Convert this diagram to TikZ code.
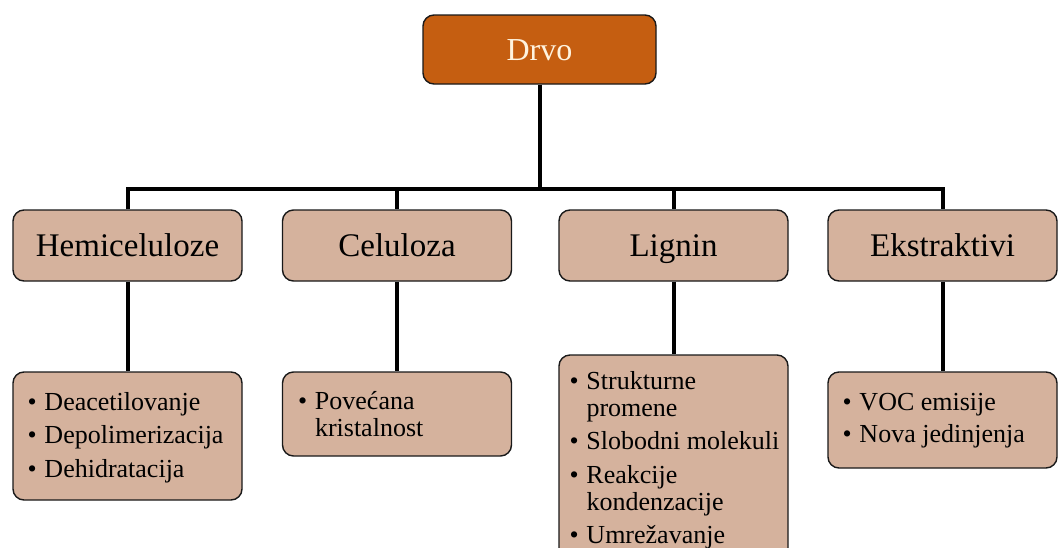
\documentclass[tikz,border=0pt]{standalone}
\usepackage{fontspec}
\setmainfont{Liberation Serif}
\usetikzlibrary{calc}
\definecolor{drvocol}{RGB}{197,94,17}
\definecolor{boxtan}{RGB}{213,178,157}
\definecolor{creamtxt}{RGB}{255,243,222}
\newcommand{\bl}{\makebox[17pt][l]{\textbullet}}
\begin{document}
\begin{tikzpicture}[x=1pt,y=-1pt,
  box/.style={draw=black!90, line width=1.4pt, rounded corners=11pt, fill=boxtan, inner sep=0pt},
  topbox/.style={box, fill=drvocol, minimum width=233pt, minimum height=69pt, font=\fontsize{32}{38}\selectfont, text=creamtxt, text height=21.9pt, text depth=0pt},
  catbox/.style={box, minimum width=229pt, minimum height=71pt, font=\fontsize{33}{40}\selectfont, text height=22.5pt, text depth=0pt},
  subbox/.style={box, minimum width=229pt},
  listtxt/.style={anchor=base west, inner sep=0pt, font=\fontsize{26}{27}\selectfont},
  link/.style={line width=4pt, black}
]
\useasboundingbox (0,0) rectangle (1061,547);
\clip (0,0) rectangle (1061,547);
\fill[white] (0,0) rectangle (1061,547);

\node[topbox] (drvo) at (539.5,49.5) {Drvo};
\node[catbox] (hemi) at (127.5,245.5) {Hemiceluloze};
\node[catbox] (celu) at (397,245.5) {Celuloza};
\node[catbox] (lign) at (673.5,245.5) {Lignin};
\node[catbox] (ekst) at (942.5,245.5) {Ekstraktivi};

\node[subbox, minimum height=128pt] (hemisub) at (127.5,436) {};
\node[subbox, minimum height=84pt] (celusub) at (397,414) {};
\node[subbox, minimum height=210pt] (lignsub) at (673.5,460) {};
\node[subbox, minimum height=96pt] (ekstsub) at (942.5,420) {};

\coordinate (bus) at (539.5,189);
\draw[link] (drvo.south) -- (drvo.south |- bus);
\draw[link, line join=miter] (hemi.north) -- (hemi.north |- bus) -- (ekst.north |- bus) -- (ekst.north);
\draw[link] (celu.north |- bus) -- (celu.north);
\draw[link] (lign.north |- bus) -- (lign.north);
\draw[link] (hemi.south) -- (hemisub.north);
\draw[link] (celu.south) -- (celusub.north);
\draw[link] (lign.south) -- (lignsub.north);
\draw[link] (ekst.south) -- (ekstsub.north);

\node[listtxt] (hemitxt) at ($(hemisub.north west)+(15,39)$) {\begin{tabular}[t]{@{}l@{}l@{}}
\bl & Deacetilovanje\\[6.5pt]
\bl & Depolimerizacija\\[6.5pt]
\bl & Dehidratacija
\end{tabular}};
\node[listtxt] (celutxt) at ($(celusub.north west)+(16,38)$) {\begin{tabular}[t]{@{}l@{}l@{}}
\bl & Povećana\\
 & kristalnost
\end{tabular}};
\node[listtxt] (ligntxt) at ($(lignsub.north west)+(11,35)$) {\begin{tabular}[t]{@{}l@{}l@{}}
\bl & Strukturne\\
 & promene\\[6.5pt]
\bl & Slobodni molekuli\\[6.5pt]
\bl & Reakcije\\
 & kondenzacije\\[6.5pt]
\bl & Umrežavanje
\end{tabular}};
\node[listtxt] (eksttxt) at ($(ekstsub.north west)+(15,39)$) {\begin{tabular}[t]{@{}l@{}l@{}}
\bl & VOC emisije\\[5pt]
\bl & Nova jedinjenja
\end{tabular}};
\end{tikzpicture}
\end{document}
